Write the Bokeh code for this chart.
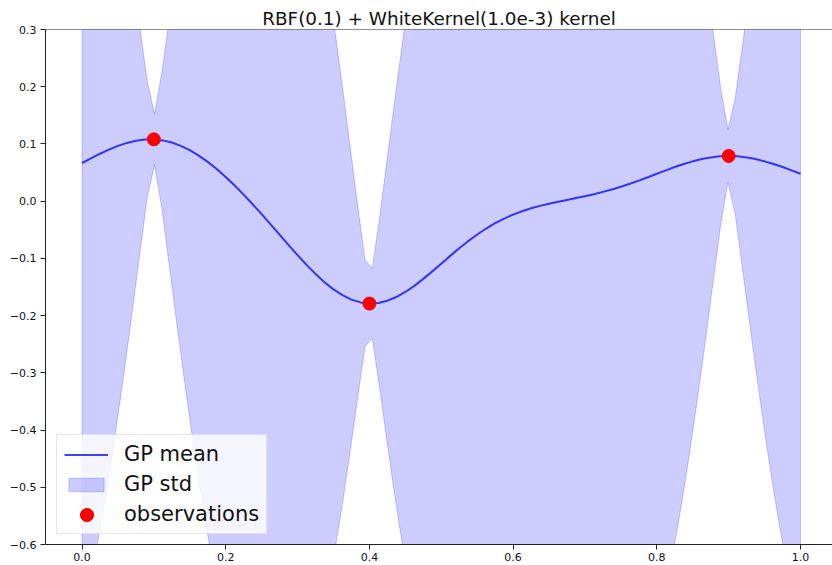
from bokeh.plotting import figure
from bokeh.models import Range1d, FixedTicker, Span, Legend, LegendItem
from bokeh.embed import file_html
from bokeh.resources import INLINE

# ---- data ----
obs_x = [0.1, 0.4, 0.9]
obs_y = [0.108, -0.179, 0.079]

mean_x = [0.0, 0.0125, 0.025, 0.0375, 0.05, 0.0625, 0.075, 0.0875, 0.1, 0.1125,
          0.125, 0.1375, 0.15, 0.1625, 0.175, 0.1875, 0.2, 0.2125, 0.225, 0.2375,
          0.25, 0.2625, 0.275, 0.2875, 0.3, 0.3125, 0.325, 0.3375, 0.35, 0.3625,
          0.375, 0.3875, 0.4, 0.4125, 0.425, 0.4375, 0.45, 0.4625, 0.475, 0.4875,
          0.5, 0.5125, 0.525, 0.5375, 0.55, 0.5625, 0.575, 0.5875, 0.6, 0.6125,
          0.625, 0.6375, 0.65, 0.6625, 0.675, 0.6875, 0.7, 0.7125, 0.725, 0.7375,
          0.75, 0.7625, 0.775, 0.7875, 0.8, 0.8125, 0.825, 0.8375, 0.85, 0.8625,
          0.875, 0.8875, 0.9, 0.9125, 0.925, 0.9375, 0.95, 0.9625, 0.975, 0.9875, 1.0]
mean_y = [0.0667, 0.0748, 0.0829, 0.0901, 0.0966, 0.1018, 0.1057, 0.1077, 0.1078, 0.1062,
          0.1025, 0.0967, 0.0892, 0.0797, 0.0687, 0.0561, 0.0423, 0.0273, 0.0115, -0.0054,
          -0.0227, -0.0406, -0.0586, -0.0767, -0.0943, -0.1113, -0.1271, -0.1416, -0.1541, -0.1643,
          -0.1720, -0.1769, -0.1788, -0.1778, -0.1739, -0.1675, -0.1587, -0.1480, -0.1358, -0.1227,
          -0.1092, -0.0956, -0.0823, -0.0699, -0.0582, -0.0478, -0.0385, -0.0304, -0.0235, -0.0176,
          -0.0125, -0.0082, -0.0044, -0.0010, 0.0022, 0.0054, 0.0087, 0.0122, 0.0162, 0.0205,
          0.0253, 0.0304, 0.0359, 0.0418, 0.0479, 0.0538, 0.0596, 0.0649, 0.0696, 0.0736,
          0.0765, 0.0783, 0.0789, 0.0783, 0.0765, 0.0736, 0.0696, 0.0649, 0.0596, 0.0538, 0.0479]

band_x = [0.0, 0.0101, 0.0202, 0.0303, 0.0404, 0.0505, 0.0606, 0.0707, 0.0808, 0.0909,
          0.1010, 0.1111, 0.1212, 0.1313, 0.1414, 0.1515, 0.1616, 0.1717, 0.1818, 0.1919,
          0.2020,
          0.3232, 0.3333, 0.3434, 0.3535, 0.3636, 0.3737, 0.3838, 0.3939, 0.4040, 0.4141,
          0.4242, 0.4343, 0.4444, 0.4545, 0.4646, 0.4747,
          0.8081, 0.8182, 0.8283, 0.8384, 0.8485, 0.8586, 0.8687, 0.8788, 0.8889, 0.8990,
          0.9091, 0.9192, 0.9293, 0.9394, 0.9495, 0.9596, 0.9697, 0.9798, 0.9899, 1.0]
band_hi = [0.8625, 0.8188, 0.7672, 0.7076, 0.6401, 0.5649, 0.4827, 0.3945, 0.3020, 0.2087,
           0.1522, 0.2249, 0.3172, 0.4073, 0.4922, 0.5705, 0.6409, 0.7028, 0.7565, 0.8000,
           0.8340,
           0.5394, 0.4608, 0.3756, 0.2846, 0.1890, 0.0904, -0.0090, -0.1022, -0.1176, -0.0295,
           0.0689, 0.1672, 0.2628, 0.3540, 0.4399, 0.5194,
           0.8079, 0.7561, 0.6963, 0.6287, 0.5536, 0.4717, 0.3839, 0.2915, 0.1979, 0.1248,
           0.1797, 0.2728, 0.3657, 0.4546, 0.5379, 0.6144, 0.6835, 0.7448, 0.7982, 0.8438]
band_lo = [-0.7293, -0.6722, -0.6076, -0.5356, -0.4566, -0.3712, -0.2805, -0.1856, -0.0884, 0.0072,
           0.0634, -0.0120, -0.1096, -0.2078, -0.3032, -0.3944, -0.4802, -0.5600, -0.6326, -0.6970,
           -0.7540,
           -0.7894, -0.7347, -0.6711, -0.5990, -0.5193, -0.4331, -0.3425, -0.2543, -0.2400, -0.3254,
           -0.4174, -0.5058, -0.5884, -0.6640, -0.7318, -0.7915,
           -0.7045, -0.6432, -0.5745, -0.4984, -0.4156, -0.3269, -0.2336, -0.1372, -0.0410, 0.0331,
           -0.0225, -0.1178, -0.2145, -0.3086, -0.3982, -0.4823, -0.5597, -0.6300, -0.6928, -0.7481]

x_ticks = [0.0, 0.2, 0.4, 0.6, 0.8, 1.0]
x_tick_labels = ["0.0", "0.2", "0.4", "0.6", "0.8", "1.0"]
y_ticks = [-0.6, -0.5, -0.4, -0.3, -0.2, -0.1, 0.0, 0.1, 0.2, 0.3]
y_tick_labels = ["\u22120.6", "\u22120.5", "\u22120.4", "\u22120.3", "\u22120.2", "\u22120.1",
                 "0.0", "0.1", "0.2", "0.3"]

title_text = "RBF(0.1) + WhiteKernel(1.0e-3) kernel"
FONT = "DejaVu Sans"

p = figure(width=832, height=565, output_backend="svg", toolbar_location=None,
           x_range=Range1d(-0.0508, 1.0445), y_range=Range1d(-0.6, 0.3),
           min_border_left=45, min_border_right=0, min_border_top=29, min_border_bottom=21,
           title=title_text)
p.background_fill_color = "white"
p.border_fill_color = "white"
p.outline_line_color = None
p.xgrid.visible = False
p.ygrid.visible = False

p.title.align = "center"
p.title.text_font = FONT
p.title.text_font_size = "18.4px"
p.title.text_font_style = "normal"
p.title.text_color = "#111111"
p.title.standoff = 2

band_r = p.patch(band_x + band_x[::-1], band_hi + band_lo[::-1],
                 fill_color="blue", fill_alpha=0.2,
                 line_color="blue", line_alpha=0.2, line_width=1)
line_r = p.line(mean_x, mean_y, line_color="blue", line_alpha=0.75, line_width=2,
                line_join="round")
dots_r = p.scatter(obs_x, obs_y, size=13, fill_color="red", line_color="red")

top_spine = Span(location=0.3, dimension="width", line_color="#222222", line_width=1)
p.add_layout(top_spine)

for ax in (p.xaxis[0], p.yaxis[0]):
    ax.axis_line_color = "#222222"
    ax.major_tick_line_color = "#222222"
    ax.major_tick_in = 0
    ax.major_tick_out = 5
    ax.minor_tick_line_color = None
    ax.major_label_text_font = FONT
    ax.major_label_text_font_size = "11px"
    ax.major_label_text_color = "#111111"

p.xaxis.ticker = FixedTicker(ticks=x_ticks)
p.xaxis.major_label_overrides = dict(zip(x_ticks, x_tick_labels))
p.xaxis.major_label_standoff = 3
p.yaxis.ticker = FixedTicker(ticks=y_ticks)
p.yaxis.major_label_overrides = dict(zip(y_ticks, y_tick_labels))
p.yaxis.major_label_standoff = 4

legend = Legend(items=[LegendItem(label="GP mean", renderers=[line_r]),
                       LegendItem(label="GP std", renderers=[band_r]),
                       LegendItem(label="observations", renderers=[dots_r])],
                location=(11, 10))
legend.label_text_font = FONT
legend.label_text_font_size = "21px"
legend.label_text_color = "#111111"
legend.glyph_width = 44
legend.glyph_height = 17
legend.label_standoff = 16
legend.padding = 7
legend.spacing = 6
legend.margin = 0
legend.border_line_color = "#cccccc"
legend.border_line_width = 1
legend.background_fill_color = "white"
legend.background_fill_alpha = 0.8
p.add_layout(legend)

# overlay legend: only a larger marker swatch for "observations"
dot_legend = Legend(items=[LegendItem(label=" ", renderers=[dots_r])],
                    location=(25, 13))
dot_legend.glyph_width = 33
dot_legend.glyph_height = 33
dot_legend.padding = 0
dot_legend.spacing = 0
dot_legend.margin = 0
dot_legend.label_standoff = 0
dot_legend.label_text_font_size = "1px"
dot_legend.label_width = 0
dot_legend.label_height = 0
dot_legend.border_line_color = None
dot_legend.background_fill_alpha = 0
p.add_layout(dot_legend)

open("out.html", "w").write(file_html(p, INLINE))
